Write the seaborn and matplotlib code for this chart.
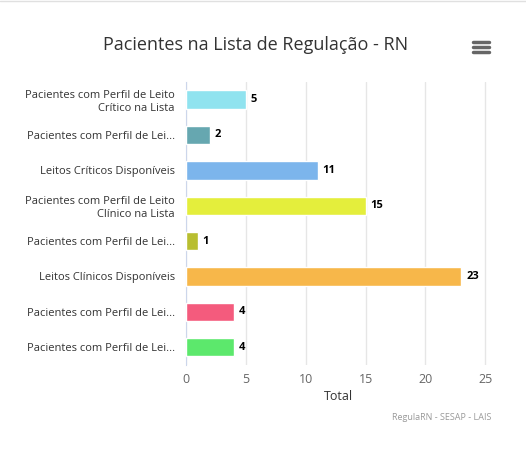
import matplotlib
matplotlib.use("Agg")
import matplotlib.pyplot as plt
import seaborn as sns
import pandas as pd

categories = ["Pacientes com Perfil de Leito\nCrítico na Lista", "Pacientes com Perfil de Lei...",
              "Leitos Críticos Disponíveis", "Pacientes com Perfil de Leito\nClínico na Lista",
              "Pacientes com Perfil de Lei...", "Leitos Clínicos Disponíveis",
              "Pacientes com Perfil de Lei...", "Pacientes com Perfil de Lei..."]
values = [5, 2, 11, 15, 1, 23, 4, 4]
colors = ["#90e3ef", "#66a7b0", "#7cb5ec", "#e4ee3c", "#b8be30", "#f7b74a", "#f45b7d", "#5ce86c"]
xticks = [0, 5, 10, 15, 20, 25]

sns.set_style("white")
plt.rcParams['font.family'] = ['Open Sans', 'DejaVu Sans']
df = pd.DataFrame({"key": [f"c{i}" for i in range(len(values))], "val": values})
fig = plt.figure(figsize=(5.26, 4.5), dpi=100)
ax = fig.add_axes([0.3536, 0.189, 0.578, 0.629])
sns.barplot(data=df, x="val", y="key", hue="key", palette=colors, legend=False, width=0.52,
            saturation=1, ax=ax, zorder=3)
ax.set_yticks(range(len(categories)))
ax.set_yticklabels(categories, ha="right", multialignment="right")
ax.set_xlim(0, 25.4)
ax.set_xticks(xticks)
ax.grid(axis="x", color="#e6e6e6", lw=1, zorder=0)
for s in ["top", "right", "bottom"]:
    ax.spines[s].set_visible(False)
ax.spines["left"].set_color("#ccd6eb")
ax.tick_params(axis="x", length=0, labelsize=9, labelcolor="#666666", pad=6)
ax.tick_params(axis="y", length=0, labelsize=8, labelcolor="#333333", pad=8)
ax.set_ylabel("")
ax.set_xlabel("Total", fontsize=9, color="#333333", labelpad=3)
for i, v in enumerate(values):
    ax.text(v + 0.4, i, str(v), va="center", ha="left", fontsize=8, fontweight="bold", color="#000000", zorder=4)
fig.text(0.485, 0.9, "Pacientes na Lista de Regulação - RN", ha="center", va="center", fontsize=13, color="#333333")
for dy in (-5, 0, 5):
    fig.add_artist(plt.Line2D([473/526, 489/526], [(450-47+dy)/450]*2, color="#666666", lw=2.5, solid_capstyle="round"))
fig.text(0.935, 0.073, "RegulaRN - SESAP - LAIS", ha="right", va="center", fontsize=6.5, color="#999999")
fig.add_artist(plt.Line2D([0, 1], [0.997, 0.997], color="#e0e0e0", lw=1))
fig.savefig("out.png", dpi=100, facecolor="white")
